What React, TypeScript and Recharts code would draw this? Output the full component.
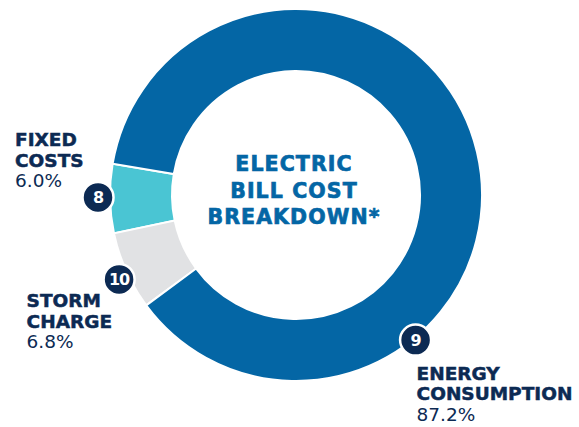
import { PieChart, Pie, Cell } from "recharts";

document.body.style.margin = "0";

const nameLines = [
  ["FIXED", "COSTS"],
  ["STORM", "CHARGE"],
  ["ENERGY", "CONSUMPTION"],
];
const shares = [6.0, 6.8, 87.2];
const badgeNumbers = [8, 10, 9];
const titleLines = ["ELECTRIC", "BILL COST", "BREAKDOWN*"];

const colors = ["#4ac5d3", "#e1e2e4", "#0466a5"];
const NAVY = "#0c2a53";
const FONT = "'DejaVu Sans', sans-serif";
const RAD = Math.PI / 180;

// where each numbered badge sits on the ring, and where its caption starts
const badgeAngle = [180.7, 205.5, 309.5];
const badgeRadius = [198, 196, 188];
const captionOffset = [
  { dx: -83, dy: -51 },
  { dx: -92.5, dy: 28 },
  { dx: 1, dy: 39.5 },
];

const data = shares.map((value, i) => ({ name: nameLines[i].join(" "), value }));

const CenterTitle = ({ cx, cy }: { cx: number; cy: number }) => (
  <g>
    {titleLines.map((line, i) => (
      <text
        key={line}
        x={cx - 2}
        y={cy - 24 + i * 26.7}
        textAnchor="middle"
        fill="#0466a5"
        stroke="#0466a5"
        strokeWidth={0.7}
        fontFamily={FONT}
        fontWeight={700}
        fontSize={20.5}
        letterSpacing={1.1}
      >
        {line}
      </text>
    ))}
  </g>
);

const renderLabel = (props: any) => {
  const { cx, cy, index } = props;
  const a = badgeAngle[index];
  const r = badgeRadius[index];
  const bx = cx + r * Math.cos(-a * RAD);
  const by = cy + r * Math.sin(-a * RAD);
  const tx = bx + captionOffset[index].dx;
  const ty = by + captionOffset[index].dy;
  return (
    <g key={`lbl-${index}`}>
      {index === 0 && <CenterTitle cx={cx} cy={cy} />}
      <circle cx={bx} cy={by} r={15.5} fill={NAVY} stroke="#fff" strokeWidth={2.5} />
      <text
        x={bx}
        y={by + 6}
        textAnchor="middle"
        fill="#fff"
        fontFamily={FONT}
        fontWeight={700}
        fontSize={16}
        letterSpacing={-1}
      >
        {badgeNumbers[index]}
      </text>
      {nameLines[index].map((line, j) => (
        <text
          key={line}
          x={tx}
          y={ty + j * 20.5}
          fill={NAVY}
          stroke={NAVY}
          strokeWidth={0.5}
          fontFamily={FONT}
          fontWeight={700}
          fontSize={18.5}
        >
          {line}
        </text>
      ))}
      <text x={tx} y={ty + 41} fill={NAVY} fontFamily={FONT} fontSize={18.5}>
        {shares[index].toFixed(1)}%
      </text>
    </g>
  );
};

export default function App() {
  return (
    <PieChart width={579} height={427} margin={{ top: 0, right: 0, bottom: 0, left: 0 }}>
      <Pie
        data={data}
        dataKey="value"
        nameKey="name"
        cx={296}
        cy={195}
        innerRadius={124}
        outerRadius={186}
        startAngle={170.3}
        endAngle={530.3}
        stroke="#fff"
        strokeWidth={2}
        label={renderLabel}
        labelLine={false}
        isAnimationActive={false}
      >
        {data.map((d, i) => (
          <Cell key={d.name} fill={colors[i]} />
        ))}
      </Pie>
    </PieChart>
  );
}
